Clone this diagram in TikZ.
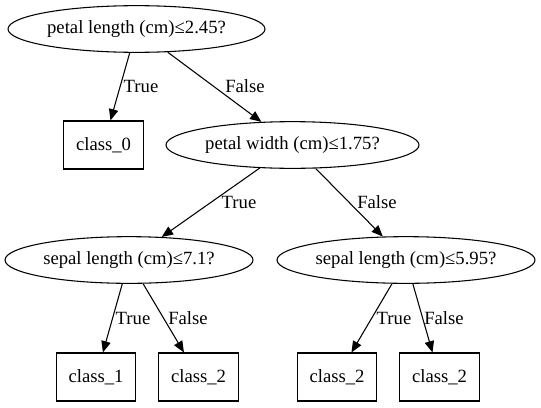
\documentclass[tikz,border=0pt]{standalone}
\usepackage{fontspec}
\setmainfont{Liberation Serif}
\newfontfamily\libser{Liberation Serif}
\usetikzlibrary{shapes.geometric,arrows.meta}
\begin{document}
\begin{tikzpicture}[x=0.75pt,y=-0.75pt,
  every node/.style={font=\libser\fontsize{14pt}{16pt}\selectfont},
  test/.style={draw, ellipse, line width=0.8pt, inner sep=0pt, minimum height=35pt},
  leaf/.style={draw, rectangle, line width=0.8pt, minimum width=59.5pt, minimum height=36pt, inner sep=0pt},
  arr/.style={-{Triangle[length=8.5pt,width=7pt]}, line width=0.8pt},
  lbl/.style={inner sep=0pt}]
\useasboundingbox (0,0) rectangle (541,407);
\node[test, minimum width=192.75pt] (root) at (136.5,29) {petal length (cm)≤2.45?};
\node[leaf] (c0) at (103.5,145) {class\_0};
\node[test, minimum width=189.75pt] (pw) at (292.5,145) {petal width (cm)≤1.75?};
\node[test, minimum width=186pt] (sl1) at (129,260) {sepal length (cm)≤7.1?};
\node[test, minimum width=193.5pt] (sl2) at (406,260) {sepal length (cm)≤5.95?};
\node[leaf] (c1) at (96,377) {class\_1};
\node[leaf] (c2a) at (198.5,377) {class\_2};
\node[leaf] (c2b) at (337,377) {class\_2};
\node[leaf] (c2c) at (439.5,377) {class\_2};

\draw[arr] (root) -- (c0);
\draw[arr] (root) -- (pw);
\draw[arr] (pw) -- (sl1);
\draw[arr] (pw) -- (sl2);
\draw[arr] (sl1) -- (c1);
\draw[arr] (sl1) -- (c2a);
\draw[arr] (sl2) -- (c2b);
\draw[arr] (sl2) -- (c2c);

\node[lbl] (t1) at (141,86) {True};
\node[lbl] (f1) at (245,86) {False};
\node[lbl] (t2) at (239,202) {True};
\node[lbl] (f2) at (377,202) {False};
\node[lbl] (t3) at (133,318) {True};
\node[lbl] (f3) at (188,318) {False};
\node[lbl] (t4) at (394,318) {True};
\node[lbl] (f4) at (444,318) {False};
\end{tikzpicture}
\end{document}
